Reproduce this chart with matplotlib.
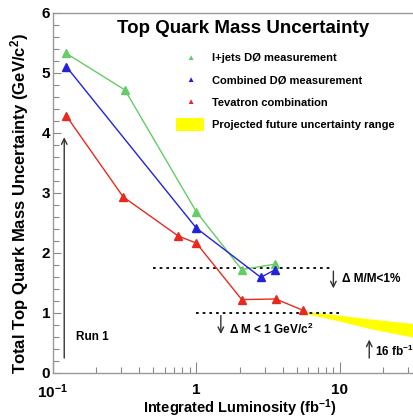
import numpy as np
import matplotlib
matplotlib.use('Agg')
import matplotlib.pyplot as plt
import matplotlib.ticker as mtick

plt.rcParams['font.family'] = ['Liberation Sans', 'DejaVu Sans']
plt.rcParams['mathtext.fontset'] = 'custom'
plt.rcParams['mathtext.rm'] = 'Liberation Sans:bold'
plt.rcParams['mathtext.bf'] = 'Liberation Sans:bold'
plt.rcParams['mathtext.default'] = 'bf'

# Dados
lumi_ljets = [0.124, 0.318, 1.0, 2.07, 3.52]
unc_ljets = [5.32, 4.71, 2.68, 1.72, 1.81]

lumi_comb = [0.124, 1.0, 2.81, 3.55]
unc_comb = [5.10, 2.41, 1.59, 1.72]

lumi_tev = [0.124, 0.309, 0.746, 1.0, 2.07, 3.57, 5.55]
unc_tev = [4.28, 2.93, 2.28, 2.16, 1.22, 1.23, 1.04]

# Faixa projetada
lumi_proj = [5.55, 10, 16, 33]
proj_alto = [1.03, 0.96, 0.90, 0.82]
proj_baixo = [1.0, 0.86, 0.74, 0.59]

verde = '#66cc66'
azul = '#2222dd'
vermelho = '#e82a1e'

fig = plt.figure(figsize=(4.13, 4.18), dpi=100)
ax = fig.add_axes([0.128, 0.108, 0.872, 0.862])

ax.fill_between(lumi_proj, proj_baixo, proj_alto, color='#ffff00', lw=0, zorder=1)

ax.plot(lumi_ljets, unc_ljets, color=verde, lw=1.0, marker='^', ms=5.5, zorder=3)
ax.plot(lumi_comb, unc_comb, color=azul, lw=1.0, marker='^', ms=5.5, zorder=3)
ax.plot(lumi_tev, unc_tev, color=vermelho, lw=1.0, marker='^', ms=5.5, zorder=4)

# Linhas pontilhadas de referencia
ax.plot([0.5, 8.6], [1.74, 1.74], color='black', ls=(0, (1.5, 2.2)), lw=1.3, zorder=2)
ax.plot([1.0, 10.0], [1.0, 1.0], color='black', ls=(0, (1.5, 2.2)), lw=1.3, zorder=2)

# Setas
seta = dict(arrowstyle='->', color='#333333', lw=1.0)
ax.annotate('', xy=(9.0, 1.36), xytext=(9.0, 1.74), arrowprops=seta)
ax.annotate('', xy=(1.48, 0.6), xytext=(1.48, 1.0), arrowprops=seta)
ax.annotate('', xy=(16, 0.6), xytext=(16, 0.2), arrowprops=seta)
ax.annotate('', xy=(0.12, 3.97), xytext=(0.12, 0.2), arrowprops=seta)

ax.text(10.3, 1.56, 'Δ M/M<1%', fontsize=8.5, fontweight='bold', va='center')
ax.text(1.68, 0.72, r'Δ M < 1 GeV/c$^{2}$', fontsize=8.5, fontweight='bold', va='center')
ax.text(17.5, 0.35, r'16 fb$^{-1}$', fontsize=8.5, fontweight='bold', va='center')
ax.text(0.1446, 0.6, 'Run 1', fontsize=8.5, fontweight='bold', va='center')

ax.text(0.589, 0.933, 'Top Quark Mass Uncertainty', transform=fig.transFigure,
        fontsize=13.5, fontweight='bold', ha='center', va='center')

# Legenda manual
leg_y = [0.861, 0.808, 0.754]
leg_cor = [verde, azul, vermelho]
leg_txt = ['l+jets DØ measurement', 'Combined DØ measurement', 'Tevatron combination']
for yy, cc, tt in zip(leg_y, leg_cor, leg_txt):
    fig.text(0.46, yy, '▲', color=cc, fontsize=6, ha='center', va='center')
    fig.text(0.513, yy, tt, fontsize=8, fontweight='bold', va='center')
fig.patches.append(plt.Rectangle((0.426, 0.686), 0.068, 0.031, transform=fig.transFigure,
                                 color='#ffff00', lw=0))
fig.text(0.513, 0.700, 'Projected future uncertainty range', fontsize=8,
         fontweight='bold', va='center')

ax.set_xscale('log')
ax.set_xlim(0.1, 10 ** 1.509)
ax.set_ylim(0, 6)

ax.xaxis.set_major_locator(mtick.FixedLocator([0.1, 1, 10]))
ax.set_xticklabels([r'10$^{-1}$', '1', '10'])
ax.xaxis.set_minor_locator(mtick.LogLocator(subs=np.arange(2, 10)))
ax.xaxis.set_minor_formatter(mtick.NullFormatter())
ax.yaxis.set_major_locator(mtick.MultipleLocator(1))
ax.yaxis.set_minor_locator(mtick.MultipleLocator(0.2))

ax.tick_params(which='both', direction='in', color='#888888', labelsize=11)
ax.tick_params(which='major', length=8, width=0.8)
ax.tick_params(which='minor', length=4, width=0.8)
ax.tick_params(axis='y', which='major', length=6, pad=2)
ax.tick_params(axis='x', pad=7)
for lbl in ax.get_xticklabels() + ax.get_yticklabels():
    lbl.set_fontweight('bold')

for lado in ['left', 'bottom', 'top']:
    ax.spines[lado].set_color('#999999')
    ax.spines[lado].set_linewidth(1.0)
ax.spines['right'].set_visible(False)

ax.set_xlabel(r'Integrated Luminosity (fb$^{-1}$)', fontsize=10.5, fontweight='bold')
ax.xaxis.set_label_coords(0.52, -0.068)
ax.set_ylabel(r'Total Top Quark Mass Uncertainty (GeV/c$^{2}$)', fontsize=12,
              fontweight='bold')
ax.yaxis.set_label_coords(-0.06, 0.47)

fig.savefig('out.png', dpi=100)
